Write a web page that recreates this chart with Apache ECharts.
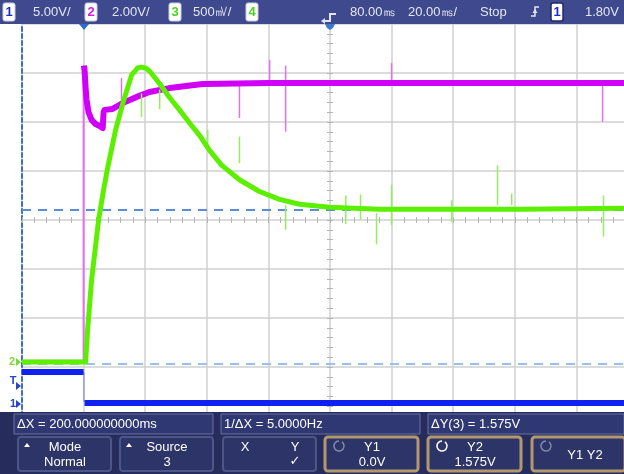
<!DOCTYPE html>
<html>
<head>
<meta charset="utf-8">
<script src="https://cdn.jsdelivr.net/npm/echarts@6/dist/echarts.min.js"></script>
<style>
  html, body { margin: 0; padding: 0; background: #ffffff; }
  #scope { width: 624px; height: 474px; }
</style>
</head>
<body>
<div id="scope"></div>
<script>
// Time base: ms relative to the trigger, 20 ms/div, 10 divisions from -20 ms.
const timeMin = -20;
const timeMax = 180;
const timePerDiv = 20;

// Channel 1 (5 V/div), volts
const ch1Time  = [-20, 0];
const ch1Volts = [3.27, 3.27];
const ch1PostTime  = [0.3, 178];
const ch1PostVolts = [0.1, 0.1];

// Channel 2 (2 V/div), volts
const ch2PreTime  = [-20, 0];
const ch2PreVolts = [0.05, 0.05];
const ch2Time  = [0.1, 0.32, 0.65, 0.97, 1.6, 2.6, 3.9, 5.2, 6.2, 6.5, 6.8, 9.4, 12.7, 17.2, 21.4, 27.9, 38.6, 60.4, 102.6, 178];
const ch2Volts = [12.1, 11.9, 11.2, 10.7, 10.2, 9.88, 9.71, 9.63, 9.55, 10.2, 10.29, 10.33, 10.57, 10.82, 11.02, 11.18, 11.35, 11.39, 11.39, 11.39];

// Channel 3 (500 mV/div), volts
const ch3Time  = [-20, 0, 0.65, 1.3, 2.6, 4.87, 6.5, 7.8, 10.4, 13.0, 15.6, 17.5, 18.8, 20.1, 21.4, 24.7, 27.9, 31.2, 34.4, 37.7, 40.9, 44.8, 50.6, 57.1, 63.6, 70.1, 79.9, 96, 119, 141.6, 178];
const ch3Volts = [0.02, 0.02, 0.02, 0.35, 0.86, 1.47, 1.78, 2.0, 2.39, 2.69, 2.95, 3.02, 3.03, 3.02, 2.99, 2.86, 2.72, 2.59, 2.46, 2.33, 2.18, 2.03, 1.88, 1.76, 1.68, 1.63, 1.60, 1.58, 1.58, 1.58, 1.59];

// Glitches: time, low volts, high volts
const ch1EdgeTime = [0.1];
const ch1EdgeLow  = [0.2];
const ch1EdgeHigh = [3.27];
const ch2EdgeTime = [0.0];
const ch2EdgeLow  = [0.05];
const ch2EdgeHigh = [12.1];
const ch2GlitchTime = [12.3, 50.6, 60.4, 65.6, 100.0, 168.5];
const ch2GlitchLow  = [10.37, 9.96, 11.39, 9.4, 11.39, 9.8];
const ch2GlitchHigh = [11.59, 11.39, 12.33, 12.1, 12.2, 11.39];
const ch3GlitchTime = [18.8, 24.7, 40.3, 50.6, 65.6, 85.1, 89.9, 95.1, 100.0, 119.5, 134.4, 139.0, 168.8];
const ch3GlitchLow  = [2.52, 2.6, 2.18, 2.05, 1.37, 1.43, 1.47, 1.22, 1.42, 1.45, 1.62, 1.62, 1.3];
const ch3GlitchHigh = [2.76, 2.8, 2.39, 2.32, 1.62, 1.72, 1.73, 1.54, 1.83, 1.67, 2.03, 1.74, 1.72];

// Cursor levels on channel 3
const cursorY1 = 0.0;
const cursorY2 = 1.575;

// Status texts
const headerItems = [
  { box: '1', color: '#1a2bd0', x: 3 },
  { box: '2', color: '#d020e0', x: 85 },
  { box: '3', color: '#50d020', x: 169 },
  { box: '4', color: '#50d020', x: 246 }
];
const headerTexts = [
  { text: '5.00V/', x: 33 },
  { text: '2.00V/', x: 112 },
  { text: '500㎷/', x: 193 },
  { text: '80.00㎳', x: 350 },
  { text: '20.00㎳/', x: 408 },
  { text: 'Stop', x: 480 },
  { text: '1.80V', x: 585 }
];
const measureTexts = [
  { text: 'ΔX = 200.000000000ms', x: 14, w: 199 },
  { text: '1/ΔX = 5.0000Hz', x: 221, w: 199 },
  { text: 'ΔY(3) = 1.575V', x: 428, w: 196 }
];
const softkeys = [
  { x: 18, lines: ['Mode', 'Normal'], tri: true },
  { x: 120, lines: ['Source', '3'], tri: true },
  { x: 223, lines: [], xy: true },
  { x: 325, lines: ['Y1', '0.0V'], knob: '#8088a8', tan: true },
  { x: 428, lines: ['Y2', '1.575V'], knob: '#ffffff', tan: true },
  { x: 532, lines: ['Y1 Y2'], knob: '#8088a8', tan: true }
];

const pairs = (xs, ys) => xs.map((x, i) => [x, ys[i]]);
const FONT = '"Liberation Sans", Arial, sans-serif';

function glitchSeries(yAxisIndex, times, lows, highs, color, width, z) {
  return {
    type: 'custom',
    yAxisIndex: yAxisIndex,
    silent: true,
    z: z,
    clip: true,
    encode: { x: 0, y: [1, 2] },
    data: times.map((t, i) => [t, lows[i], highs[i]]),
    renderItem: function (params, api) {
      const a = api.coord([api.value(0), api.value(1)]);
      const b = api.coord([api.value(0), api.value(2)]);
      return {
        type: 'line',
        shape: { x1: a[0], y1: a[1], x2: b[0], y2: b[1] },
        style: { stroke: color, lineWidth: width }
      };
    }
  };
}

function traceSeries(yAxisIndex, data, color, width, z, extra) {
  return Object.assign({
    type: 'line',
    yAxisIndex: yAxisIndex,
    data: data,
    symbol: 'none',
    silent: true,
    z: z,
    connectNulls: false,
    lineStyle: { color: color, width: width, join: 'round' },
    animation: false
  }, extra || {});
}

// Decorations: header bar, markers, measurement and softkey panels
const graphics = [];
graphics.push({ type: 'rect', shape: { x: 0, y: 0, width: 624, height: 24 }, style: { fill: '#3f4a8e' }, z: 100 });
headerItems.forEach(h => {
  graphics.push({ type: 'rect', shape: { x: h.x, y: 3, width: 12, height: 18, r: 2 }, style: { fill: '#ffffff', stroke: '#c8cce0', lineWidth: 1 }, z: 101 });
  graphics.push({ type: 'text', x: h.x + 6, y: 12, style: { text: h.box, fill: h.color, font: 'bold 13px ' + FONT, align: 'center', verticalAlign: 'middle' }, z: 102 });
});
headerTexts.forEach(t => {
  graphics.push({ type: 'text', x: t.x, y: 12, style: { text: t.text, fill: '#e4e6f2', font: '13px ' + FONT, verticalAlign: 'middle' }, z: 102 });
});
// rising-edge trigger symbol
graphics.push({ type: 'polyline', shape: { points: [[531, 16], [535, 16], [535, 7], [539, 7]] }, style: { stroke: '#e4e6f2', lineWidth: 1.5, fill: null }, z: 102 });
graphics.push({ type: 'polygon', shape: { points: [[532.5, 13], [537.5, 13], [535, 9]] }, style: { fill: '#e4e6f2' }, z: 102 });
// trigger source box
graphics.push({ type: 'rect', shape: { x: 551, y: 3, width: 12, height: 18, r: 2 }, style: { fill: '#ffffff', stroke: '#20286a', lineWidth: 1.5 }, z: 101 });
graphics.push({ type: 'text', x: 557, y: 12, style: { text: '1', fill: '#1a2bd0', font: 'bold 13px ' + FONT, align: 'center', verticalAlign: 'middle' }, z: 102 });
// delay reference marker
graphics.push({ type: 'polyline', shape: { points: [[336, 14], [330, 14], [330, 21], [324, 21]] }, style: { stroke: '#e0e4f4', lineWidth: 2, fill: null }, z: 102 });
graphics.push({ type: 'polygon', shape: { points: [[321, 21], [325, 18], [325, 24]] }, style: { fill: '#e0e4f4' }, z: 102 });
graphics.push({ type: 'polygon', shape: { points: [[325, 24], [335, 24], [333, 28], [330, 30], [327, 28]] }, style: { fill: '#3b78d0' }, z: 102 });
// trigger position marker
graphics.push({ type: 'polygon', shape: { points: [[79, 24], [89, 24], [84, 30]] }, style: { fill: '#2a6cd0' }, z: 102 });

// left ground markers
graphics.push({ type: 'text', x: 12, y: 362, style: { text: '2', fill: '#7ad838', font: 'bold 11px ' + FONT, align: 'center', verticalAlign: 'middle' }, z: 60 });
graphics.push({ type: 'polygon', shape: { points: [[16, 358], [21, 362], [16, 366]] }, style: { fill: '#7ad838' }, z: 60 });
graphics.push({ type: 'text', x: 13, y: 381, style: { text: 'T', fill: '#2a44c8', font: 'bold 11px ' + FONT, align: 'center', verticalAlign: 'middle' }, z: 60 });
graphics.push({ type: 'polygon', shape: { points: [[16, 382], [21, 386], [16, 390]] }, style: { fill: '#2a44c8' }, z: 60 });
graphics.push({ type: 'text', x: 13, y: 404, style: { text: '1', fill: '#2a44c8', font: 'bold 11px ' + FONT, align: 'center', verticalAlign: 'middle' }, z: 60 });
graphics.push({ type: 'polygon', shape: { points: [[16, 400], [21, 404], [16, 408]] }, style: { fill: '#2a44c8' }, z: 60 });

// bottom panels
graphics.push({ type: 'rect', shape: { x: 0, y: 412, width: 624, height: 62 }, style: { fill: '#262d5c' }, z: 100 });
measureTexts.forEach(m => {
  graphics.push({ type: 'rect', shape: { x: m.x, y: 414, width: m.w, height: 20 }, style: { fill: '#2f3872', stroke: '#68719f', lineWidth: 1 }, z: 101 });
  graphics.push({ type: 'text', x: m.x + 3, y: 424, style: { text: m.text, fill: '#ffffff', font: '13px ' + FONT, verticalAlign: 'middle' }, z: 102 });
});
softkeys.forEach(k => {
  graphics.push({ type: 'rect', shape: { x: k.x, y: 437, width: 93, height: 34, r: 3 }, style: { fill: '#2c3468', stroke: k.tan ? '#b3976f' : '#4d5688', lineWidth: k.tan ? 3 : 2 }, z: 101 });
  const cx = k.x + 47;
  if (k.lines.length === 2) {
    graphics.push({ type: 'text', x: cx, y: 447, style: { text: k.lines[0], fill: '#ffffff', font: '13px ' + FONT, align: 'center', verticalAlign: 'middle' }, z: 102 });
    graphics.push({ type: 'text', x: cx, y: 462, style: { text: k.lines[1], fill: '#ffffff', font: '13px ' + FONT, align: 'center', verticalAlign: 'middle' }, z: 102 });
  } else if (k.lines.length === 1) {
    graphics.push({ type: 'text', x: cx + 6, y: 455, style: { text: k.lines[0], fill: '#ffffff', font: '13px ' + FONT, align: 'center', verticalAlign: 'middle' }, z: 102 });
  }
  if (k.tri) {
    graphics.push({ type: 'polygon', shape: { points: [[k.x + 6, 447], [k.x + 12, 447], [k.x + 9, 443]] }, style: { fill: '#ffffff' }, z: 102 });
  }
  if (k.knob) {
    graphics.push({ type: 'arc', shape: { cx: k.x + 14, cy: 446, r: 5, startAngle: -Math.PI * 0.3, endAngle: Math.PI * 1.5 }, style: { stroke: k.knob, lineWidth: 1.5, fill: null }, z: 102 });
  }
  if (k.xy) {
    graphics.push({ type: 'text', x: k.x + 22, y: 447, style: { text: 'X', fill: '#ffffff', font: '13px ' + FONT, align: 'center', verticalAlign: 'middle' }, z: 102 });
    graphics.push({ type: 'text', x: k.x + 72, y: 447, style: { text: 'Y', fill: '#ffffff', font: '13px ' + FONT, align: 'center', verticalAlign: 'middle' }, z: 102 });
    graphics.push({ type: 'text', x: k.x + 72, y: 462, style: { text: '✓', fill: '#ffffff', font: '13px "DejaVu Sans", sans-serif', align: 'center', verticalAlign: 'middle' }, z: 102 });
  }
});

const gridLine = { show: true, lineStyle: { color: '#d0d0d0', width: 1.5 } };
const tickAxisX = (inside) => ({
  type: 'value', min: timeMin, max: timeMax, interval: timePerDiv / 5, position: 'bottom', offset: -196,
  axisLine: { show: false }, axisLabel: { show: false }, splitLine: { show: false },
  axisTick: { show: true, inside: inside, length: 3, lineStyle: { color: '#b4b4b4', width: 1 } }
});
const tickAxisY = (inside) => ({
  type: 'value', min: -4, max: 4, interval: 0.2, position: 'left', offset: -308,
  axisLine: { show: false }, axisLabel: { show: false }, splitLine: { show: false },
  axisTick: { show: true, inside: inside, length: 3, lineStyle: { color: '#b4b4b4', width: 1 } }
});
const hiddenAxis = (min, max) => ({ type: 'value', min: min, max: max, show: false });

const option = {
  animation: false,
  backgroundColor: '#ffffff',
  // the tenth division runs past the right edge of the display
  grid: { left: 22, right: -14, top: 24, bottom: 58, outerBoundsMode: 'none', containLabel: false },
  xAxis: [
    {
      type: 'value', min: timeMin, max: timeMax, interval: timePerDiv,
      axisLine: { show: false }, axisTick: { show: false }, axisLabel: { show: false },
      splitLine: gridLine
    },
    tickAxisX(false),
    tickAxisX(true)
  ],
  yAxis: [
    {
      type: 'value', min: -4, max: 4, interval: 1,
      axisLine: { show: true, onZero: false, lineStyle: { color: '#3f6fc4', width: 2, type: [4, 3] } },
      axisTick: { show: false }, axisLabel: { show: false },
      splitLine: gridLine
    },
    hiddenAxis(-1.224, 38.776),   // channel 1
    hiddenAxis(-2.204, 13.796),   // channel 2
    hiddenAxis(-0.5306, 3.4694),  // channel 3
    tickAxisY(false),
    tickAxisY(true)
  ],
  series: [
    traceSeries(1, pairs(ch1Time, ch1Volts), '#1020f0', 6, 3),
    traceSeries(1, pairs(ch1PostTime, ch1PostVolts), '#1020f0', 6, 3),
    glitchSeries(1, ch1EdgeTime, ch1EdgeLow, ch1EdgeHigh, '#6a80f0', 1, 3),
    traceSeries(2, pairs(ch2PreTime, ch2PreVolts), '#e07ef0', 2, 4),
    glitchSeries(2, ch2EdgeTime, ch2EdgeLow, ch2EdgeHigh, '#e070f4', 2, 4),
    traceSeries(2, pairs(ch2Time, ch2Volts), '#d000f8', 6, 4),
    glitchSeries(2, ch2GlitchTime, ch2GlitchLow, ch2GlitchHigh, '#e070f4', 1.5, 4),
    glitchSeries(3, ch3GlitchTime, ch3GlitchLow, ch3GlitchHigh, '#90f060', 1.5, 5),
    traceSeries(3, pairs(ch3Time, ch3Volts), '#5cf000', 5, 6, {
      markLine: {
        silent: true, symbol: 'none', label: { show: false }, animation: false,
        data: [
          { yAxis: cursorY2, lineStyle: { color: '#5c8cd8', width: 2, type: [9, 7] } },
          { yAxis: cursorY1, lineStyle: { color: '#96c4f2', width: 2, type: [9, 7] } }
        ]
      }
    })
  ],
  graphic: graphics
};

const chart = echarts.init(document.getElementById('scope'), null, { renderer: 'canvas' });
chart.setOption(option);
</script>
</body>
</html>
